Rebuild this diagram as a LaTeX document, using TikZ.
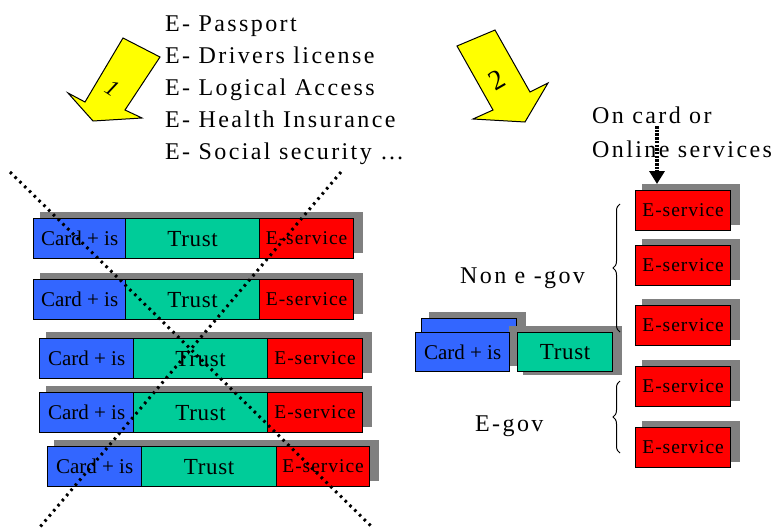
\documentclass[tikz,border=0pt]{standalone}
\usepackage{fontspec}
\setmainfont{Liberation Serif}
\newfontfamily\spacedfont[LetterSpace=10]{Liberation Serif}
\newfontfamily\trustfont[LetterSpace=3]{Liberation Serif}
\newfontfamily\svcfont[LetterSpace=5]{Liberation Serif}
\usetikzlibrary{arrows.meta,decorations.pathreplacing,calc}

\definecolor{cardblue}{RGB}{51,102,255}
\definecolor{trustgreen}{RGB}{0,204,153}
\definecolor{svcred}{RGB}{255,0,0}
\definecolor{shadowgray}{RGB}{128,128,128}
\definecolor{arrowyellow}{RGB}{255,255,0}

\tikzset{
  part/.style={draw=black, line width=1.2pt, inner sep=0pt, minimum height=40pt, anchor=north west},
  cardpart/.style={part, fill=cardblue, font=\fontsize{21}{21}\selectfont},
  trustpart/.style={part, fill=trustgreen, font=\trustfont\fontsize{23}{23}\selectfont},
  svcpart/.style={part, fill=svcred, font=\svcfont\fontsize{19.5}{19.5}\selectfont},
  shade/.style={fill=shadowgray},
  label/.style={inner sep=0pt, anchor=base west, font=\spacedfont\fontsize{24}{24}\selectfont},
  blockarrow/.style={fill=arrowyellow, draw=black, line width=1pt, line join=miter},
  crossline/.style={line width=3pt, dash pattern=on 2.5pt off 4.2pt, line cap=butt},
  pointer/.style={line width=3.5pt, dash pattern=on 2.5pt off 1.2pt, -{Triangle[width=15pt,length=13pt]}},
  groupbrace/.style={decorate, decoration={brace, amplitude=7pt}, line width=1pt}
}

\begin{document}
\begin{tikzpicture}[x=1pt, y=-1pt]
\useasboundingbox (0,0) rectangle (772,528);

% numbered block arrows
\draw[blockarrow] (123,38) -- (160,57) -- (125,110) -- (142,118) -- (93,121) -- (68,93) -- (85,102) -- cycle;
\node[rotate=-33, font=\fontsize{23}{23}\selectfont\itshape] (n1) at (112,88) {1};
\draw[blockarrow] (457,46) -- (495,30) -- (530,92) -- (548,83) -- (525,122) -- (473,119) -- (493,110) -- cycle;
\node[rotate=30, font=\fontsize{28}{28}\selectfont] (n2) at (497,80) {2};

% list of applications
\node[label] (l1) at (165,31) {E- Passport};
\node[label] (l2) at (165,63) {E- Drivers license};
\node[label] (l3) at (165,95) {E- Logical Access};
\node[label] (l4) at (165,127) {E- Health Insurance};
\node[label] (l5) at (165,159) {E- Social security …};

% separate stacks, one per application
\foreach \i/\a/\b/\c/\d/\t in {1/33/125/259/353/218, 2/33/125/259/353/279, 3/39/133/267/362/338, 4/39/133/267/362/392, 5/47/141/276/369/446} {
  \fill[shade] (\a+7,\t-6) rectangle (\d+10,\t+35);
  \node[cardpart, minimum width=\b-\a] (card\i) at (\a,\t) {Card + is};
  \node[trustpart, minimum width=\c-\b] (trust\i) at (\b,\t) {Trust};
  \node[svcpart, minimum width=\d-\c] (svc\i) at (\c,\t) {E-service};
}

% crossed out
\coordinate (xa1) at (10,172);
\coordinate (xa2) at (372,527);
\coordinate (xb1) at (341,172);
\coordinate (xb2) at (40,527);
\draw[crossline] (xa1) -- (xa2);
\draw[crossline] (xb1) -- (xb2);

% shared card and trust
\fill[shade] (429,312) rectangle (526,352);
\node[part, fill=cardblue, minimum width=95pt] (cardback) at (421,318) {};
\fill[shade] (509,326) rectangle (517,366);
\fill[shade] (523,326) rectangle (622,375);
\node[cardpart, minimum width=94pt, minimum height=39pt] (cardm) at (415,332) {Card + is};
\node[trustpart, minimum width=95pt, minimum height=39pt] (trustm) at (517,332) {Trust};

% services on the right
\foreach \i/\t in {1/190, 2/245, 3/305, 4/366, 5/427} {
  \fill[shade] (642,\t-6) rectangle (740,\t+35);
  \node[svcpart, minimum width=95pt] (es\i) at (635,\t) {E-service};
}

\node[label] (oncard) at (592,123) {On card or};
\node[label] (online) at (592,157) {Online services};
\coordinate (ptr) at (657,126);
\draw[pointer] (ptr) -- ($(ptr |- es1.north)+(0,-6)$);

\draw[groupbrace] (620,332) -- (620,204);
\draw[groupbrace] (620,453) -- (620,381);
\node[label] (nongov) at (460,283) {Non e -gov};
\node[label] (egov) at (475,431) {E-gov};
\end{tikzpicture}
\end{document}
